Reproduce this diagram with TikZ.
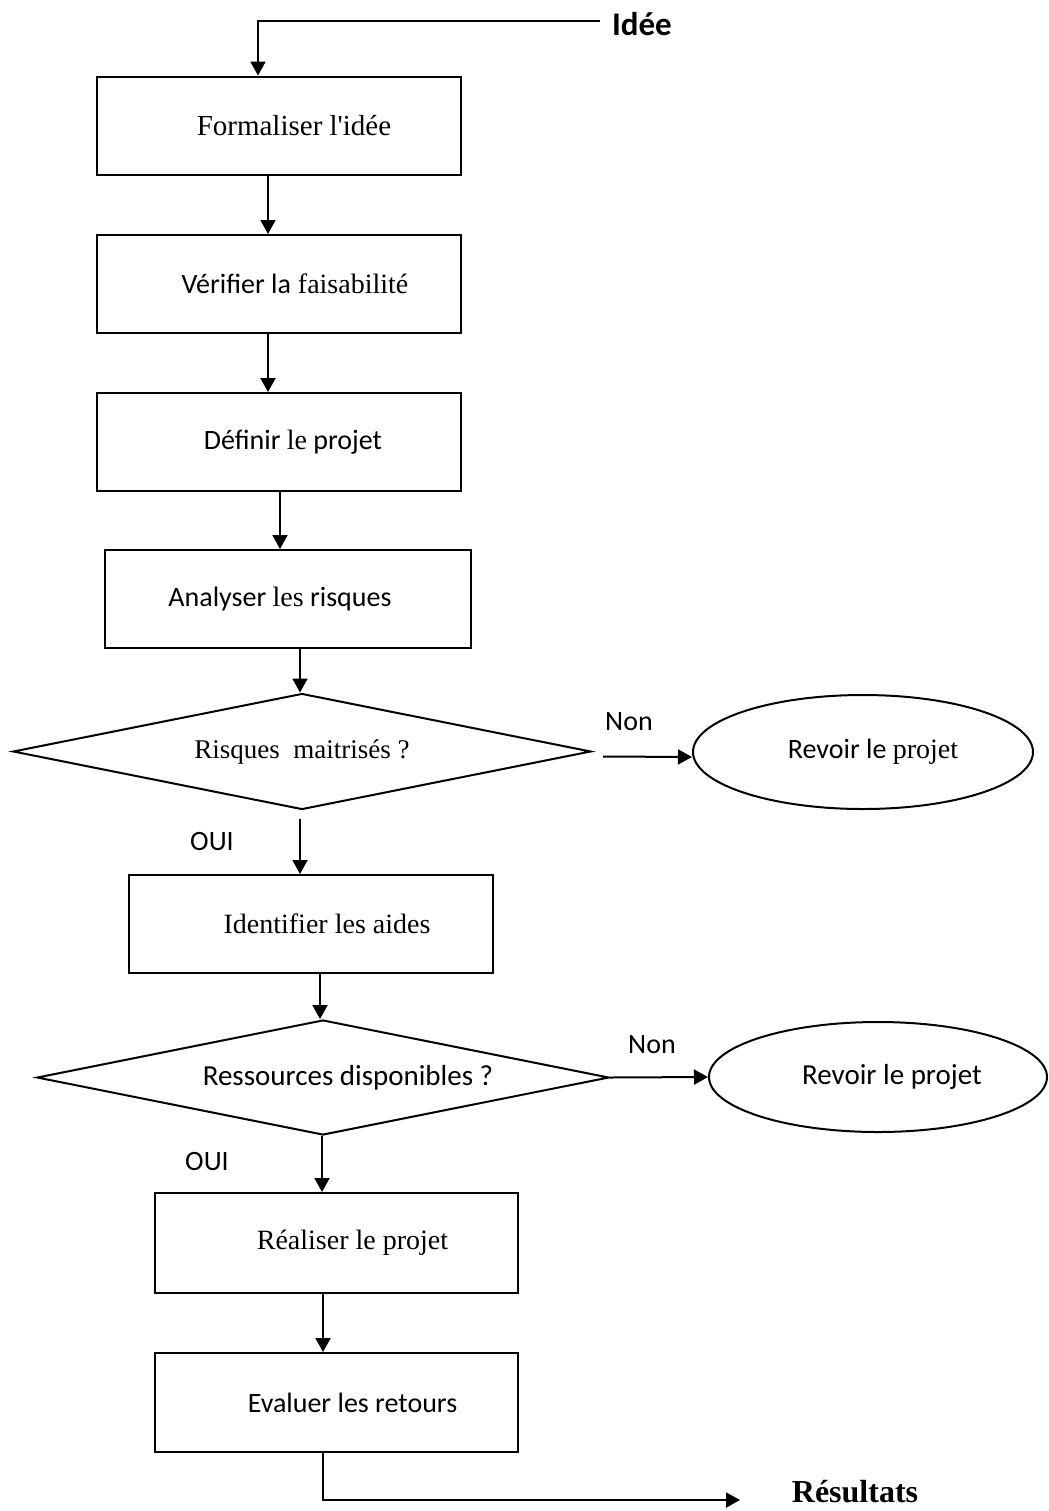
\documentclass[tikz,border=0pt]{standalone}
\usepackage{fontspec}
\setmainfont{Liberation Serif}
\newfontfamily\calfont{Carlito}
\usetikzlibrary{shapes.geometric,arrows.meta}
\begin{document}
\begin{tikzpicture}[x=0.5pt,y=-0.5pt,
  line width=1pt,
  every node/.style={font=\fontsize{14}{17}\selectfont},
  box/.style={draw, rectangle, inner sep=0pt, minimum width=182pt, minimum height=49pt},
  choice/.style={draw, diamond, aspect=5, inner sep=0pt, minimum width=289pt, minimum height=58pt},
  oval/.style={draw, ellipse, inner sep=0pt, minimum width=170pt, minimum height=57pt},
  lbl/.style={inner sep=0pt},
  arr/.style={-{Triangle[length=7pt,width=7.5pt]}}]
\useasboundingbox (0,0) rectangle (1049,1511);

\node[box] (b1) at (279,125.5) {\hspace*{15pt}\fontsize{14.5}{17}\selectfont Formaliser l\textquotesingle idée};
\node[box] (b2) at (279,284) {\hspace*{16pt}{\calfont Vérifier la} faisabilité};
\node[box] (b3) at (279,442) {\hspace*{14pt}{\calfont Définir }le{\calfont\ projet}};
\node[box, minimum width=183pt] (b4) at (288,599) {\hspace*{-8pt}{\calfont Analyser }les{\calfont\ risques}};
\node[choice] (d1) at (302,751.5) {\fontsize{13.5}{16}\selectfont Risques\ \ maitrisés ?};
\node[oval] (e1) at (863,752) {\hspace*{10pt}{\calfont Revoir le }projet};
\node[box] (b5) at (311,924) {\hspace*{16pt}Identifier les aides};
\node[choice, minimum width=286pt, minimum height=57.5pt] (d2) at (323,1077.5) {\hspace*{25pt}{\calfont\fontsize{14.5}{17}\selectfont Ressources disponibles ?}};
\node[oval, minimum width=169pt, minimum height=55pt] (e2) at (878,1077) {\hspace*{14pt}{\calfont\fontsize{14.5}{17}\selectfont Revoir le projet}};
\node[box, minimum width=181.5pt, minimum height=50pt] (b6) at (336.5,1243) {\hspace*{16pt}Réaliser le projet};
\node[box, minimum width=181.5pt, minimum height=49.5pt] (b7) at (336.5,1402.5) {\hspace*{16pt}{\calfont Evaluer les retours}};

\node[lbl, anchor=west] (idee) at (611,24) {\calfont\fontsize{16.5}{19}\selectfont\bfseries Idée};
\node[lbl] (non1) at (629,722) {\calfont Non};
\node[lbl] (non2) at (652,1045) {\calfont Non};
\node[lbl] (oui1) at (212,842) {\calfont OUI};
\node[lbl] (oui2) at (207,1162) {\calfont OUI};
\node[lbl, font=\fontsize{16}{19}\selectfont\bfseries] (res) at (855,1492) {Résultats};

\coordinate (ln) at (600,21);
\coordinate (rs) at (740,1500);

\draw[arr] (ln) -| ([xshift=-10.5pt]b1.north);
\draw[arr] ([xshift=-5.5pt]b1.south) -- ([xshift=-5.5pt]b2.north);
\draw[arr] ([xshift=-5.5pt]b2.south) -- ([xshift=-5.5pt]b3.north);
\draw[arr] ([xshift=0.5pt]b3.south) -- ([xshift=0.5pt]b3.south |- b4.north);
\draw[arr] ([xshift=6pt]b4.south) -- ([xshift=6pt]b4.south |- d1.north);
\draw[arr] ([xshift=-1pt,yshift=-4pt]d1.south) -- ([xshift=-1pt]d1.south |- b5.north);
\draw[arr] ([xshift=5.5pt,yshift=-2.5pt]d1.east) -- ([yshift=-2.5pt]e1.west);
\draw[arr] ([xshift=4.5pt]b5.south) -- ([xshift=4.5pt]b5.south |- d2.north);
\draw[arr] (d2.east) -- (e2.west);
\draw[arr] ([xshift=-0.5pt]d2.south) -- ([xshift=-0.5pt]d2.south |- b6.north);
\draw[arr] ([xshift=-6.75pt]b6.south) -- ([xshift=-6.75pt]b7.north);
\draw[arr] ([xshift=-6.75pt]b7.south) |- (rs);
\end{tikzpicture}
\end{document}
